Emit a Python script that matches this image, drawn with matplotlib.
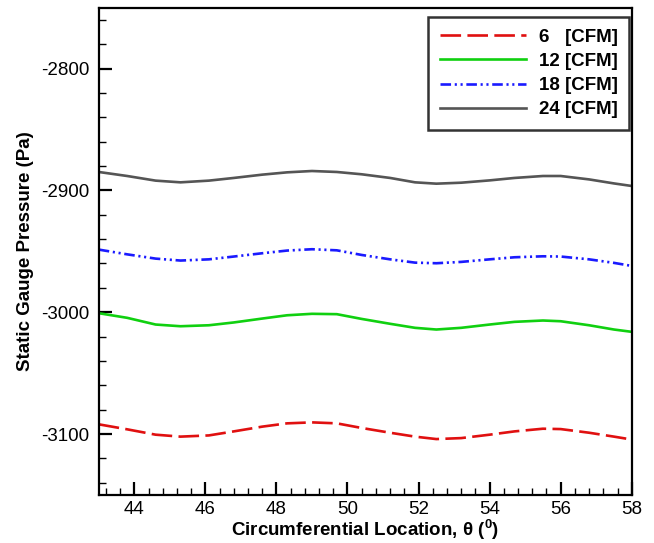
import matplotlib
matplotlib.use("Agg")
import matplotlib.pyplot as plt
from matplotlib.ticker import MultipleLocator

plt.rcParams['font.family'] = ['Liberation Sans', 'DejaVu Sans']
plt.rcParams['mathtext.default'] = 'regular'
plt.rcParams['axes.unicode_minus'] = False

# Circumferential location (degrees)
theta = [43.0, 43.8, 44.6, 45.3, 46.1, 46.8, 47.6, 48.3, 49.0, 49.7, 50.4,
         51.2, 51.9, 52.5, 53.2, 54.0, 54.7, 55.5, 56.0, 56.8, 57.5, 58.0]

# Static gauge pressure (Pa) for each flow rate
p_6cfm = [-3092.0, -3096.1, -3100.5, -3102.1, -3101.1, -3097.8, -3093.9, -3091.2,
          -3090.4, -3091.2, -3095.0, -3098.9, -3102.1, -3104.1, -3103.3, -3100.5,
          -3097.8, -3095.6, -3095.9, -3098.9, -3102.1, -3104.5]
p_12cfm = [-3000.8, -3004.6, -3010.1, -3011.5, -3010.7, -3008.4, -3005.2, -3002.5,
           -3001.3, -3001.6, -3005.5, -3009.5, -3012.8, -3014.2, -3012.8, -3010.1,
           -3007.9, -3006.8, -3007.4, -3010.7, -3014.2, -3016.1]
p_18cfm = [-2948.6, -2952.5, -2956.0, -2957.6, -2956.6, -2954.3, -2951.6, -2949.4,
           -2948.3, -2949.2, -2953.0, -2956.6, -2959.3, -2959.8, -2958.7, -2956.6,
           -2954.9, -2954.1, -2954.3, -2956.6, -2959.5, -2962.0]
p_24cfm = [-2884.9, -2888.2, -2892.0, -2893.4, -2892.0, -2889.8, -2887.1, -2885.2,
           -2884.1, -2884.9, -2886.8, -2889.8, -2893.4, -2894.5, -2893.7, -2891.8,
           -2889.8, -2888.2, -2888.2, -2891.0, -2894.3, -2896.4]

labels = ["6   [CFM]", "12 [CFM]", "18 [CFM]", "24 [CFM]"]

fig = plt.figure(figsize=(6.54, 5.43), dpi=100)
ax = fig.add_axes([0.151, 0.0884, 0.815, 0.8976])

lw = 1.9
ax.plot(theta, p_6cfm, color='#e01010', lw=lw, ls=(0, (7.8, 2.4)), label=labels[0])
ax.plot(theta, p_12cfm, color='#10d010', lw=lw, ls='-', label=labels[1])
ax.plot(theta, p_18cfm, color='#1a1aff', lw=lw,
        ls=(0, (4.0, 1.4, 0.8, 1.4, 0.8, 1.4)), label=labels[2])
ax.plot(theta, p_24cfm, color='#555555', lw=lw, ls='-', label=labels[3])

ax.set_xlim(43, 58)
ax.set_ylim(-3150, -2750)
ax.xaxis.set_major_locator(MultipleLocator(2))
ax.xaxis.set_minor_locator(MultipleLocator(0.4))
ax.yaxis.set_major_locator(MultipleLocator(100))
ax.yaxis.set_minor_locator(MultipleLocator(20))

ax.tick_params(which='both', direction='in', top=False, right=False,
               labelsize=13.5, colors='black')
ax.tick_params(which='major', length=9.5, width=1.6)
ax.tick_params(axis='x', which='major', pad=4)
ax.tick_params(axis='y', which='major', pad=7)
ax.tick_params(which='minor', length=5, width=1.0)
for s in ax.spines.values():
    s.set_linewidth(1.6)

ax.set_xlabel(r'Circumferential Location, θ ($^{0}$)', fontsize=13.5,
              fontweight='bold', labelpad=0)
ax.set_ylabel('Static Gauge Pressure (Pa)', fontsize=13.5, fontweight='bold',
              labelpad=5)

leg = ax.legend(loc='upper right', bbox_to_anchor=(0.995, 0.98),
                prop={'weight': 'bold', 'size': 13.5}, frameon=True, fancybox=False,
                handlelength=4.6, handletextpad=0.7, labelspacing=0.38,
                borderpad=0.6, borderaxespad=0.0)
leg.get_frame().set_edgecolor('black')
leg.get_frame().set_linewidth(1.8)

fig.savefig('out.png', dpi=100)
